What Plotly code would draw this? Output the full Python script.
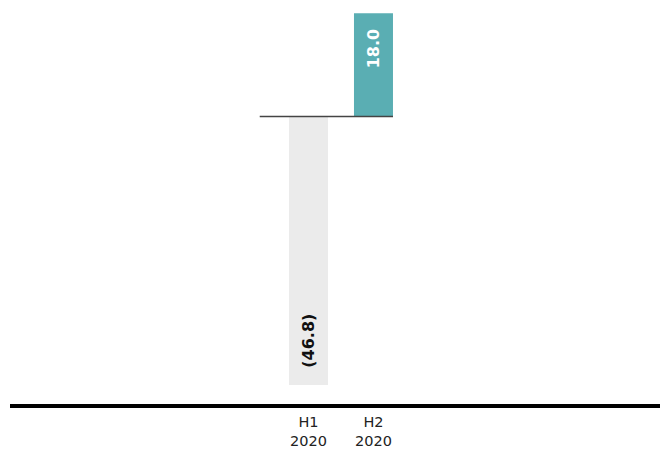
import plotly.graph_objects as go

# Half-year results
periods = ["H1<br>2020", "H2<br>2020"]
values = [-46.8, 18.0]
bar_colors = ["#ebebeb", "#5aaeb3"]
label_colors = ["#111111", "#ffffff"]


def fmt(v):
    return f"({abs(v):.1f})" if v < 0 else f"{v:.1f}"


fig = go.Figure(
    go.Bar(
        x=periods,
        y=values,
        marker=dict(color=bar_colors, line=dict(width=0)),
        width=0.6,
        hoverinfo="skip",
    )
)

# value labels, rotated, placed inside the bars
for p, v, c in zip(periods, values, label_colors):
    y_pos = v - 6.2 if v > 0 else v + 7.8
    fig.add_annotation(
        x=p, y=y_pos, text=f"<b>{fmt(v)}</b>", textangle=-90,
        showarrow=False, xanchor="center", yanchor="middle",
        font=dict(family="DejaVu Sans", size=16, color=c),
    )

# zero baseline spanning the bars
fig.add_shape(
    type="line", xref="x", yref="y", x0=-0.75, x1=1.3, y0=0, y1=0,
    line=dict(color="#444444", width=1.5), layer="above",
)

fig.update_layout(
    width=661, height=450,
    margin=dict(l=10, r=1, t=0, b=46),
    paper_bgcolor="white", plot_bgcolor="white",
    showlegend=False,
    xaxis=dict(
        type="category",
        range=[-4.592, 5.408],
        automargin=False,
        showline=True, linecolor="black", linewidth=4,
        showgrid=False, zeroline=False, ticks="",
        ticklabelstandoff=2,
        tickfont=dict(family="DejaVu Sans", size=14.5, color="#222222"),
    ),
    yaxis=dict(
        range=[-50.1, 20.3],
        visible=False, showgrid=False, zeroline=False,
    ),
)

fig.write_html("out.html")
